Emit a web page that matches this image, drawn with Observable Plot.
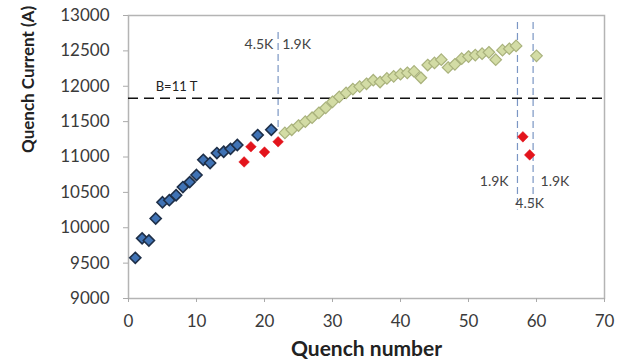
<!DOCTYPE html>
<html>
<head>
<meta charset="utf-8">
<script src="https://cdn.jsdelivr.net/npm/d3@7"></script>
<script src="https://cdn.jsdelivr.net/npm/@observablehq/plot@0.6"></script>
<style>
  html, body { margin: 0; padding: 0; background: #fff; }
  #chart svg { display: block; }
</style>
</head>
<body>
<div id="chart"></div>
<script>
// Blue series (first quenches)
const blueQ = [1, 2, 3, 4, 5, 6, 7, 8, 9, 10, 11, 12, 13, 14, 15, 16, 19, 21];
const blueI = [9575, 9850, 9820, 10130, 10360, 10390, 10460, 10575, 10645, 10745, 10960, 10915, 11055, 11075, 11115, 11170, 11310, 11385];
// Red series
const redQ = [17, 18, 20, 22, 58, 59];
const redI = [10930, 11145, 11070, 11215, 11285, 11030];
// Green series
const greenQ = [23, 24, 25, 26, 27, 28, 29, 30, 31, 32, 33, 34, 35, 36, 37, 38, 39, 40, 41, 42, 43, 44, 45, 46, 47, 48, 49, 50, 51, 52, 53, 54, 55, 56, 57, 60];
const greenI = [11340, 11385, 11445, 11500, 11555, 11625, 11695, 11780, 11850, 11905, 11960, 11995, 12035, 12085, 12060, 12110, 12140, 12170, 12190, 12210, 12120, 12300, 12330, 12375, 12265, 12310, 12390, 12420, 12440, 12460, 12480, 12375, 12510, 12530, 12570, 12430];

const xTicks = [0, 10, 20, 30, 40, 50, 60, 70];
const yTicks = [9000, 9500, 10000, 10500, 11000, 11500, 12000, 12500, 13000];

// Annotations
const fieldLevel = 11830;
const fieldLabel = "B=11 T";
const vLines = [
  {q: 22, y1: 12760, y2: 11380},
  {q: 57.2, y1: 12900, y2: 10250},
  {q: 59.5, y1: 12900, y2: 10350}
];
const labelsEnd = [
  {q: 21.3, i: 12590, text: "4.5K"},
  {q: 55.9, i: 10650, text: "1.9K"}
];
const labelsStart = [
  {q: 22.6, i: 12590, text: "1.9K"},
  {q: 60.6, i: 10650, text: "1.9K"}
];
const labelsMiddle = [
  {q: 59.0, i: 10340, text: "4.5K"}
];

const blue = blueQ.map((q, k) => ({q, i: blueI[k]}));
const red = redQ.map((q, k) => ({q, i: redI[k]}));
const green = greenQ.map((q, k) => ({q, i: greenI[k]}));

const font = "Lato, 'Open Sans', sans-serif";
const annot = {x: "q", y: "i", text: "text", fontSize: 14, fill: "#444"};

const chart = Plot.plot({
  width: 625,
  height: 360,
  marginLeft: 128,
  marginRight: 21,
  marginTop: 15,
  marginBottom: 62,
  style: {fontFamily: font, background: "#fff"},
  x: {domain: [0, 70]},
  y: {domain: [9000, 13000]},
  marks: [
    Plot.frame({stroke: "#b4b4b4", strokeWidth: 1.5}),
    Plot.axisX({ticks: xTicks, tickFormat: d3.format("d"), tickSize: 4, tickPadding: 12, fontSize: 17, color: "#3a3a3a", stroke: "#aaa", label: null}),
    Plot.axisY({ticks: yTicks, tickFormat: d3.format("d"), tickSize: 5, tickPadding: 14, fontSize: 17, color: "#3a3a3a", stroke: "#aaa", label: null}),
    Plot.text(["Quench number"], {frameAnchor: "bottom", lineAnchor: "bottom", dy: 57, fontSize: 21, fontWeight: "bold", fill: "#222"}),
    Plot.text(["Quench Current (A)"], {frameAnchor: "left", dx: -100, dy: -4, rotate: -90, fontSize: 17, fontWeight: "bold", fill: "#222"}),
    Plot.ruleX(vLines, {x: "q", y1: "y1", y2: "y2", stroke: "#7b96c4", strokeWidth: 1.2, strokeDasharray: "7,4"}),
    Plot.ruleY([fieldLevel], {stroke: "#111", strokeWidth: 1.6, strokeDasharray: "10,6"}),
    Plot.text([fieldLabel], {x: 4, y: 11990, text: d => d, textAnchor: "start", fontSize: 13, fill: "#222"}),
    Plot.text(labelsEnd, {...annot, textAnchor: "end"}),
    Plot.text(labelsStart, {...annot, textAnchor: "start"}),
    Plot.text(labelsMiddle, {...annot, textAnchor: "middle"}),
    Plot.dot(green, {x: "q", y: "i", symbol: "diamond2", r: 5.2, fill: "#d3dca5", stroke: "#a9b27c", strokeWidth: 1.2}),
    Plot.dot(blue, {x: "q", y: "i", symbol: "diamond2", r: 5.0, fill: "#4073b5", stroke: "#1e2f48", strokeWidth: 1.6}),
    Plot.dot(red, {x: "q", y: "i", symbol: "diamond2", r: 4.8, fill: "#e3141c", stroke: "#e3141c", strokeWidth: 0.5})
  ]
});
document.getElementById("chart").appendChild(chart);
</script>
</body>
</html>
